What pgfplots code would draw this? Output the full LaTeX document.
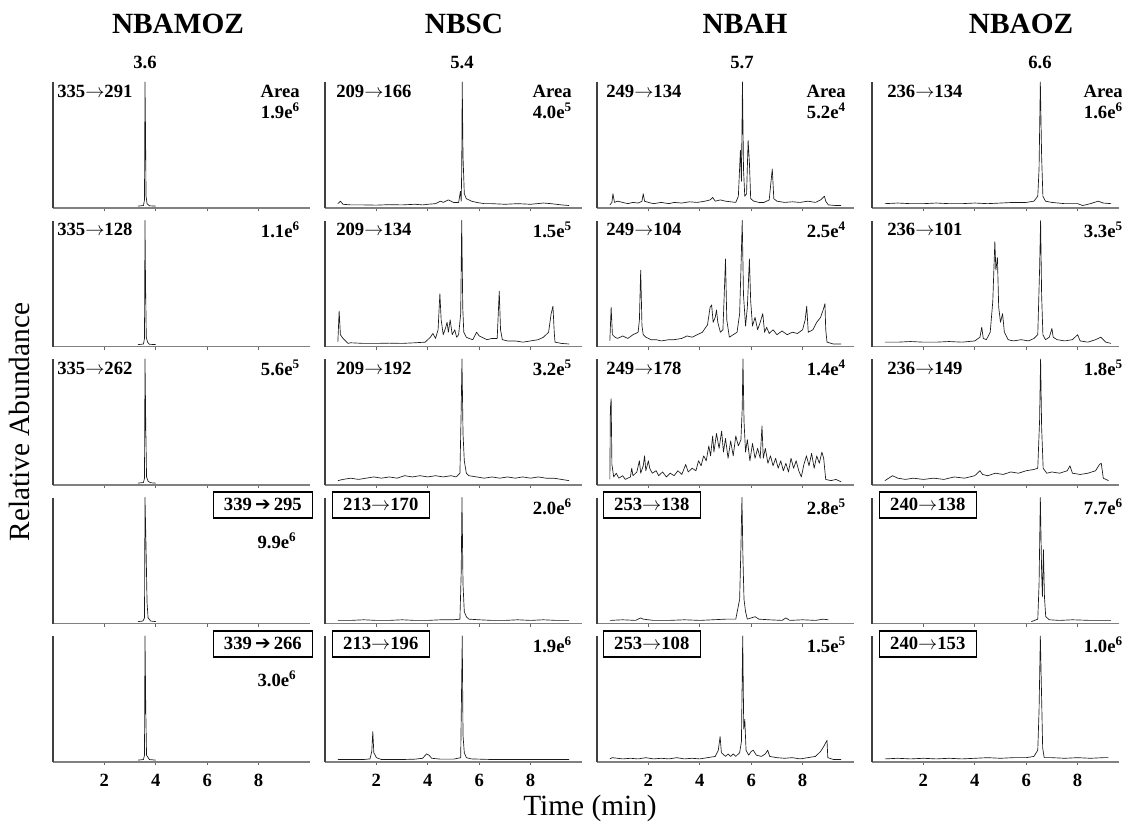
\documentclass[border=0pt]{standalone}
\usepackage{fontspec}
\setmainfont{Liberation Serif}
\newfontfamily\dejavu{DejaVu Sans}
\usepackage{pgfplots}
\pgfplotsset{compat=1.18}
\newcommand{\lab}{\fontsize{14}{16}\selectfont\bfseries}
\newcommand{\harr}{{\dejavu\bfseries\fontsize{14}{14}\selectfont ➔}}
\newcommand{\arr}{$\rightarrow$}
\pgfplotsset{
  panel/.style={
    scale only axis, width=192.75pt, height=94.5pt,
    xmin=0, xmax=10, ymin=-1.5, ymax=100,
    axis x line*=bottom, axis y line*=left,
    x axis line style={black!50, line width=1pt},
    y axis line style={black!75, line width=0.9pt},
    xtick={2,4,6,8}, ytick=\empty,
    tick align=outside, major tick length=2.5pt,
    xtick style={black!60, line width=0.7pt},
    xticklabels={},
    xticklabel style={font=\bfseries\fontsize{14}{14}\selectfont, yshift=-3pt},
    anchor=south west, clip=false,
  },
  last/.style={xticklabels={2,4,6,8}},
  col4/.style={xmax=9.6, width=185.04pt},
  trace/.style={black!90, line width=0.5pt, line join=round, no marks},
}
\begin{document}
\begin{tikzpicture}
\useasboundingbox (0,0) rectangle (841.5pt,-618.75pt);
% ================= Row 1 =================
\begin{axis}[panel, at={(53*0.75pt,-208*0.75pt)}]
\addplot[trace] coordinates {(3.3,0)(3.52,0.5)(3.56,5)(3.58,100)(3.6,60)(3.62,8)(3.66,2)(3.75,0.3)(4.0,0)};
\end{axis}
\begin{axis}[panel, at={(325*0.75pt,-208*0.75pt)}]
\addplot[trace] coordinates {(0.5,2)(0.6,4)(0.7,1.5)(1.0,1)(1.5,1)(2.0,0.8)(2.5,1.2)(3.0,1)(3.5,1.5)(3.8,1)(4.0,1.5)(4.3,2)(4.5,4)(4.6,3)(4.8,5)(5.0,3)(5.2,3)(5.27,12)(5.3,4)(5.32,30)(5.34,100)(5.37,40)(5.42,10)(5.5,6)(5.7,4)(5.9,3)(6.2,2)(6.5,2)(7.0,1.5)(7.5,2)(8.0,1.5)(8.5,2.5)(8.8,2)(9.2,1)(9.5,0.5)};
\end{axis}
\begin{axis}[panel, at={(597*0.75pt,-208*0.75pt)}]
\addplot[trace] coordinates {(0.5,1)(0.58,3)(0.62,10)(0.68,3)(0.8,4)(1.0,3)(1.2,2)(1.4,3)(1.6,2.5)(1.75,4)(1.8,10)(1.85,4)(2.0,3)(2.2,2)(2.5,3)(2.8,2)(3.0,3)(3.3,2.5)(3.6,3.5)(3.9,3)(4.2,4)(4.4,5)(4.5,7)(4.6,4)(4.8,5)(5.0,4)(5.2,3.5)(5.4,3)(5.5,8)(5.58,45)(5.62,20)(5.66,100)(5.7,30)(5.75,8)(5.82,10)(5.88,53)(5.93,35)(5.98,6)(6.1,4)(6.3,3)(6.5,3)(6.7,5)(6.82,30)(6.88,6)(7.0,4)(7.3,3)(7.6,3.5)(7.9,3)(8.2,4)(8.5,3)(8.7,5)(8.85,8)(8.9,4)(9.0,1)(9.3,0.5)(9.5,0.5)};
\end{axis}
\begin{axis}[panel, col4, at={(872*0.75pt,-208*0.75pt)}]
\addplot[trace] coordinates {(0.5,2)(1.0,2.5)(1.5,2)(2.0,2)(2.5,2.5)(3.0,2)(3.5,2)(4.0,2.5)(4.5,2)(5.0,2.5)(5.5,3)(6.0,3)(6.3,4)(6.45,8)(6.5,30)(6.55,100)(6.6,40)(6.65,8)(6.75,4)(7.0,3)(7.5,2)(8.0,2)(8.2,0.5)(8.5,2)(8.8,4)(9.0,2.5)(9.3,2)};
\end{axis}
% ================= Row 2 =================
\begin{axis}[panel, at={(53*0.75pt,-346.5*0.75pt)}]
\addplot[trace] coordinates {(3.3,0)(3.52,0.5)(3.56,5)(3.58,100)(3.6,50)(3.63,6)(3.68,2)(3.75,0.3)(4.0,0)};
\end{axis}
\begin{axis}[panel, at={(325*0.75pt,-346.5*0.75pt)}]
\addplot[trace] coordinates {(0.5,2)(0.55,27)(0.6,8)(0.7,5)(0.8,3)(0.9,1)(1.0,1.5)(1.5,1)(2.0,1)(2.5,1.2)(3.0,1)(3.5,1.5)(3.9,2)(4.1,6)(4.2,9)(4.3,5)(4.4,12)(4.47,41)(4.52,20)(4.6,8)(4.7,14)(4.75,18)(4.8,10)(4.87,20)(4.95,8)(5.05,12)(5.12,6)(5.2,8)(5.28,25)(5.32,100)(5.36,30)(5.4,10)(5.5,6)(5.6,5)(5.75,4)(5.9,10)(6.0,7)(6.1,6)(6.3,4)(6.5,5)(6.7,5)(6.78,43)(6.83,12)(6.9,4)(7.1,3)(7.4,3)(7.7,2)(8.0,3)(8.3,4)(8.5,6)(8.7,10)(8.8,25)(8.87,31)(8.92,10)(8.95,2)(9.2,1)(9.5,0.5)};
\end{axis}
\begin{axis}[panel, at={(597*0.75pt,-346.5*0.75pt)}]
\addplot[trace] coordinates {(0.5,3)(0.55,30)(0.6,8)(0.7,6)(0.8,5)(1.0,7)(1.2,5)(1.4,8)(1.6,10)(1.65,20)(1.7,60)(1.75,15)(1.8,8)(1.9,6)(2.1,4)(2.3,4)(2.5,3)(2.8,4)(3.0,4)(3.3,5)(3.5,7)(3.7,6)(3.9,8)(4.1,10)(4.3,16)(4.4,30)(4.46,32)(4.52,18)(4.6,22)(4.65,28)(4.7,18)(4.8,10)(4.9,12)(4.95,40)(5.0,69)(5.05,20)(5.15,6)(5.3,8)(5.45,10)(5.55,25)(5.6,60)(5.65,100)(5.7,40)(5.78,15)(5.85,30)(5.93,69)(5.98,35)(6.05,15)(6.15,22)(6.25,12)(6.35,18)(6.45,25)(6.52,10)(6.6,14)(6.7,9)(6.85,12)(7.0,8)(7.2,11)(7.4,8)(7.6,10)(7.8,9)(8.0,12)(8.1,20)(8.16,31)(8.22,10)(8.4,12)(8.55,18)(8.7,22)(8.8,28)(8.87,33)(8.9,12)(8.95,2)(9.2,0.5)(9.5,0.5)};
\end{axis}
\begin{axis}[panel, col4, at={(872*0.75pt,-346.5*0.75pt)}]
\addplot[trace] coordinates {(0.5,2)(1.0,2)(1.5,2.5)(2.0,2)(2.5,2)(3.0,2.5)(3.5,2)(4.0,3)(4.2,6)(4.27,14)(4.33,5)(4.45,4)(4.6,10)(4.7,35)(4.78,83)(4.82,60)(4.88,70)(4.93,30)(5.0,18)(5.08,25)(5.15,10)(5.3,4)(5.5,3)(5.8,4)(6.1,3)(6.3,5)(6.45,8)(6.52,60)(6.56,100)(6.6,40)(6.65,8)(6.75,4)(6.9,6)(7.0,13)(7.05,6)(7.2,4)(7.5,3)(7.8,4)(8.0,8)(8.1,3)(8.4,2)(8.7,4)(8.9,6)(9.1,2)(9.3,1)};
\end{axis}
% ================= Row 3 =================
\begin{axis}[panel, at={(53*0.75pt,-485*0.75pt)}]
\addplot[trace] coordinates {(3.3,0)(3.52,0.5)(3.56,4)(3.58,100)(3.61,45)(3.64,5)(3.7,1.5)(3.8,0.3)(4.0,0)};
\end{axis}
\begin{axis}[panel, at={(325*0.75pt,-485*0.75pt)}]
\addplot[trace] coordinates {(0.5,2)(0.7,3)(1.0,4)(1.3,3)(1.6,4)(1.9,5)(2.2,4)(2.5,5)(2.8,4)(3.1,6)(3.4,5)(3.7,6)(4.0,5)(4.3,6)(4.6,5)(4.9,6)(5.1,5)(5.25,8)(5.3,60)(5.33,100)(5.37,40)(5.42,18)(5.5,8)(5.6,6)(5.9,5)(6.2,4)(6.5,5)(6.8,4)(7.1,5)(7.4,4)(7.7,5)(8.0,4)(8.3,5)(8.6,4)(8.9,4)(9.2,3)(9.5,2)};
\end{axis}
\begin{axis}[panel, at={(597*0.75pt,-485*0.75pt)}]
\addplot[trace] coordinates {(0.5,3)(0.52,60)(0.55,68)(0.58,15)(0.65,5)(0.75,8)(0.85,4)(1.0,6)(1.1,3)(1.3,5)(1.35,12)(1.4,6)(1.55,9)(1.65,18)(1.7,8)(1.8,14)(1.85,22)(1.9,10)(2.0,18)(2.05,12)(2.15,8)(2.3,10)(2.4,6)(2.55,9)(2.7,5)(2.85,8)(3.0,6)(3.15,10)(3.3,7)(3.45,15)(3.55,9)(3.7,12)(3.85,10)(3.95,18)(4.05,14)(4.15,22)(4.25,18)(4.35,30)(4.42,22)(4.5,38)(4.55,25)(4.65,40)(4.75,28)(4.85,42)(4.92,25)(5.0,36)(5.1,20)(5.2,34)(5.3,22)(5.4,38)(5.5,30)(5.6,35)(5.65,60)(5.68,100)(5.72,50)(5.78,25)(5.85,35)(5.95,18)(6.05,32)(6.15,20)(6.25,28)(6.35,20)(6.42,46)(6.47,20)(6.55,28)(6.65,16)(6.75,22)(6.85,14)(6.95,20)(7.05,12)(7.15,18)(7.25,10)(7.35,16)(7.45,9)(7.55,20)(7.65,12)(7.75,18)(7.85,10)(7.95,5)(8.05,15)(8.15,22)(8.25,14)(8.35,24)(8.45,12)(8.55,22)(8.65,16)(8.75,25)(8.82,20)(8.9,3)(9.1,2)(9.3,3)(9.5,1)};
\end{axis}
\begin{axis}[panel, col4, at={(872*0.75pt,-485*0.75pt)}]
\addplot[trace] coordinates {(0.5,2)(0.8,6)(1.0,4)(1.3,3)(1.6,4)(2.0,3)(2.4,4)(2.8,3)(3.2,5)(3.6,4)(4.0,6)(4.2,10)(4.3,7)(4.5,6)(4.8,8)(5.1,7)(5.4,9)(5.7,8)(6.0,10)(6.3,11)(6.45,12)(6.52,50)(6.56,100)(6.6,45)(6.66,12)(6.8,8)(7.0,9)(7.3,8)(7.6,10)(7.7,14)(7.8,8)(8.1,7)(8.4,8)(8.7,10)(8.85,15)(8.92,16)(9.0,4)(9.2,2)};
\end{axis}
% ================= Row 4 =================
\begin{axis}[panel, at={(53*0.75pt,-623.5*0.75pt)}]
\addplot[trace] coordinates {(3.3,0)(3.5,0.5)(3.56,3)(3.58,100)(3.62,60)(3.66,15)(3.7,3)(3.8,0.5)(4.0,0)};
\end{axis}
\begin{axis}[panel, at={(325*0.75pt,-623.5*0.75pt)}]
\addplot[trace] coordinates {(0.5,1)(1.0,1)(1.5,1.5)(2.0,1)(2.5,1)(3.0,1.5)(3.5,1)(4.0,1)(4.5,1.5)(5.0,1.5)(5.25,2)(5.3,40)(5.33,100)(5.37,30)(5.42,8)(5.5,4)(5.6,2)(6.0,1.5)(6.5,1)(7.0,1)(7.5,1.5)(8.0,1)(8.5,1.5)(9.0,1)(9.5,1)};
\end{axis}
\begin{axis}[panel, at={(597*0.75pt,-623.5*0.75pt)}]
\addplot[trace] coordinates {(0.5,1)(1.0,1.5)(1.5,1)(1.7,3)(1.8,2)(2.2,1)(2.8,1)(3.4,1.5)(4.0,1)(4.5,1.5)(5.0,2)(5.4,2)(5.55,18)(5.6,60)(5.64,100)(5.68,50)(5.72,18)(5.78,8)(5.85,2)(6.0,3)(6.15,4)(6.3,2)(6.7,1.5)(7.2,1)(7.35,3)(7.5,1)(8.0,1.5)(8.5,1)(8.8,2)(9.0,1.5)};
\end{axis}
\begin{axis}[panel, col4, at={(872*0.75pt,-623.5*0.75pt)}]
\addplot[trace] coordinates {(6.2,0)(6.45,2)(6.5,30)(6.55,100)(6.6,40)(6.63,20)(6.67,58)(6.71,20)(6.76,4)(6.9,1.5)(7.3,1)(7.8,1.5)(8.5,1)(9.3,1)};
\end{axis}
% ================= Row 5 =================
\begin{axis}[panel, last, at={(53*0.75pt,-762*0.75pt)}]
\addplot[trace] coordinates {(3.3,0)(3.52,0.5)(3.56,4)(3.58,100)(3.61,40)(3.64,4)(3.75,0.5)(4.0,0)};
\end{axis}
\begin{axis}[panel, last, at={(325*0.75pt,-762*0.75pt)}]
\addplot[trace] coordinates {(0.5,0.5)(1.0,0.5)(1.5,0.5)(1.75,1)(1.82,7)(1.86,23)(1.9,6)(2.0,2)(2.2,0.5)(3.0,0.5)(3.5,0.8)(3.8,1.5)(3.95,5)(4.05,4)(4.15,1.5)(4.5,0.8)(5.0,0.8)(5.28,2)(5.31,50)(5.34,100)(5.37,20)(5.42,6)(5.5,2)(5.7,1)(6.5,0.5)(7.5,0.5)(8.5,0.5)(9.5,0.5)};
\end{axis}
\begin{axis}[panel, last, at={(597*0.75pt,-762*0.75pt)}]
\addplot[trace] coordinates {(0.5,1)(0.6,2)(0.8,1.5)(1.0,1)(1.3,1.5)(1.6,1)(1.9,2)(2.2,1)(2.5,1.5)(2.8,1)(3.1,2)(3.4,1)(3.7,1.5)(4.0,1)(4.3,2)(4.6,3)(4.72,8)(4.79,19)(4.84,6)(5.0,3)(5.1,5)(5.2,3)(5.3,5)(5.4,3)(5.55,6)(5.62,15)(5.67,100)(5.71,25)(5.75,33)(5.8,8)(5.9,4)(6.0,7)(6.08,8)(6.2,4)(6.4,3)(6.55,5)(6.64,8)(6.72,3)(7.0,2)(7.3,1.5)(7.6,2)(7.9,1)(8.2,2)(8.5,3)(8.7,7)(8.85,12)(8.95,16)(8.98,2)(9.2,0.5)(9.5,0.5)};
\end{axis}
\begin{axis}[panel, last, col4, at={(872*0.75pt,-762*0.75pt)}]
\addplot[trace] coordinates {(0.5,1)(1.0,1.5)(1.5,1)(2.0,1.5)(2.5,1)(3.0,1.5)(3.5,1)(4.0,1.5)(4.5,2)(5.0,1.5)(5.5,2)(6.0,2)(6.3,3)(6.45,8)(6.5,40)(6.55,100)(6.6,50)(6.64,10)(6.7,2)(7.0,2)(7.5,1.5)(8.0,2)(8.5,1.5)(9.0,2)(9.2,2)};
\end{axis}
% ================= Labels =================
\begin{scope}[x=0.75pt, y=-0.75pt]
\foreach \xx/\tt in {178/NBAMOZ, 464/NBSC, 745/NBAH, 1021/NBAOZ}
  {\node[font=\bfseries\fontsize{22}{24}\selectfont, anchor=base] at (\xx,33) {\tt};}
\foreach \xx/\tt in {145/3.6, 462/5.4, 742/5.7, 1040/6.6}
  {\node[font=\lab, anchor=base] at (\xx,68) {\tt};}
% row 1
\node[font=\lab, anchor=west, inner sep=0pt] at (57,91) {335\arr291};
\node[font=\lab, anchor=west, inner sep=0pt] at (336,91) {209\arr166};
\node[font=\lab, anchor=west, inner sep=0pt] at (606,91) {249\arr134};
\node[font=\lab, anchor=west, inner sep=0pt] at (887,91) {236\arr134};
\foreach \r in {300,572,846,1123} {\node[font=\lab, anchor=east, inner sep=0pt] at (\r,91) {Area};}
\node[font=\lab, anchor=east, inner sep=0pt] at (300,111) {1.9e\textsuperscript{6}};
\node[font=\lab, anchor=east, inner sep=0pt] at (572,111) {4.0e\textsuperscript{5}};
\node[font=\lab, anchor=east, inner sep=0pt] at (846,111) {5.2e\textsuperscript{4}};
\node[font=\lab, anchor=east, inner sep=0pt] at (1123,111) {1.6e\textsuperscript{6}};
% row 2
\node[font=\lab, anchor=west, inner sep=0pt] at (57,229.5) {335\arr128};
\node[font=\lab, anchor=west, inner sep=0pt] at (336,229.5) {209\arr134};
\node[font=\lab, anchor=west, inner sep=0pt] at (606,229.5) {249\arr104};
\node[font=\lab, anchor=west, inner sep=0pt] at (887,229.5) {236\arr101};
\node[font=\lab, anchor=east, inner sep=0pt] at (300,229.5) {1.1e\textsuperscript{6}};
\node[font=\lab, anchor=east, inner sep=0pt] at (572,229.5) {1.5e\textsuperscript{5}};
\node[font=\lab, anchor=east, inner sep=0pt] at (846,229.5) {2.5e\textsuperscript{4}};
\node[font=\lab, anchor=east, inner sep=0pt] at (1123,229.5) {3.3e\textsuperscript{5}};
% row 3
\node[font=\lab, anchor=west, inner sep=0pt] at (57,368) {335\arr262};
\node[font=\lab, anchor=west, inner sep=0pt] at (336,368) {209\arr192};
\node[font=\lab, anchor=west, inner sep=0pt] at (606,368) {249\arr178};
\node[font=\lab, anchor=west, inner sep=0pt] at (887,368) {236\arr149};
\node[font=\lab, anchor=east, inner sep=0pt] at (300,368) {5.6e\textsuperscript{5}};
\node[font=\lab, anchor=east, inner sep=0pt] at (572,368) {3.2e\textsuperscript{5}};
\node[font=\lab, anchor=east, inner sep=0pt] at (846,368) {1.4e\textsuperscript{4}};
\node[font=\lab, anchor=east, inner sep=0pt] at (1123,368) {1.8e\textsuperscript{5}};
% row 4
\tikzset{bx/.style={draw, line width=0.8pt, fill=white, font=\lab, inner xsep=8pt, inner ysep=4pt, text height=10pt, text depth=1.5pt}}
\node[bx, anchor=east] at (313,505) {339\,\harr\,295};
\node[font=\lab] at (277,541) {9.9e\textsuperscript{6}};
\node[bx, anchor=west] at (332,505) {213\arr170};
\node[bx, anchor=west] at (603,505) {253\arr138};
\node[bx, anchor=west] at (879,505) {240\arr138};
\node[font=\lab, anchor=east, inner sep=0pt] at (572,506.5) {2.0e\textsuperscript{6}};
\node[font=\lab, anchor=east, inner sep=0pt] at (846,506.5) {2.8e\textsuperscript{5}};
\node[font=\lab, anchor=east, inner sep=0pt] at (1123,506.5) {7.7e\textsuperscript{6}};
% row 5
\node[bx, anchor=east] at (313,644) {339\,\harr\,266};
\node[font=\lab] at (277,679) {3.0e\textsuperscript{6}};
\node[bx, anchor=west] at (332,644) {213\arr196};
\node[bx, anchor=west] at (603,644) {253\arr108};
\node[bx, anchor=west] at (879,644) {240\arr153};
\node[font=\lab, anchor=east, inner sep=0pt] at (572,645) {1.9e\textsuperscript{6}};
\node[font=\lab, anchor=east, inner sep=0pt] at (846,645) {1.5e\textsuperscript{5}};
\node[font=\lab, anchor=east, inner sep=0pt] at (1123,645) {1.0e\textsuperscript{6}};
% axis titles
\node[font=\fontsize{22}{24}\selectfont] at (590,808) {Time (min)};
\node[font=\fontsize{22}{24}\selectfont, rotate=90] at (19,422) {Relative Abundance};
\end{scope}
\end{tikzpicture}
\end{document}
